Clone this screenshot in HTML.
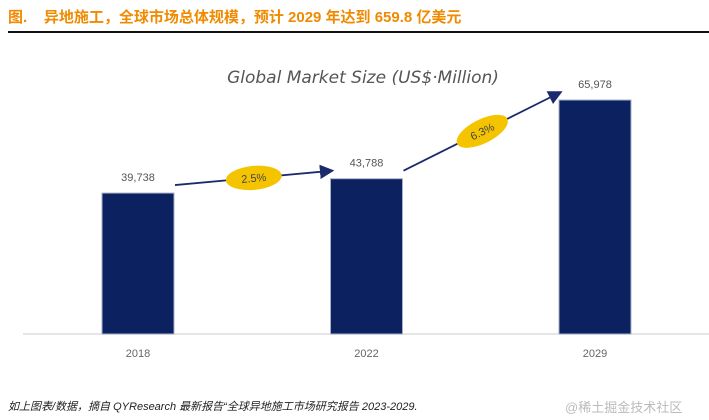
<!DOCTYPE html>
<html><head><meta charset="utf-8"><style>
body{margin:0;width:709px;height:420px;background:#fff;font-family:"Liberation Sans","Noto Sans CJK SC",sans-serif;overflow:hidden;position:relative}
#title{position:absolute;left:8px;top:6px;font-size:15px;font-weight:bold;color:#f08a00;white-space:nowrap}
#rule{position:absolute;left:8px;top:31px;width:701px;height:2px;background:#111}
#foot{position:absolute;left:8px;top:398px;font-size:11px;font-style:italic;color:#222;white-space:nowrap}
#wm{position:absolute;left:565px;top:397px;font-size:13px;color:#bbb;white-space:nowrap}
</style></head><body>
<div id="title">图.&nbsp;&nbsp;&nbsp;&nbsp;异地施工，全球市场总体规模，预计 2029 年达到 659.8 亿美元</div>
<div id="rule"></div>
<svg id="chart" width="709" height="420" style="position:absolute;left:0;top:0">
<defs><marker id="ah" markerWidth="8" markerHeight="8" refX="7" refY="4" orient="auto"><path d="M0,0 L8,4 L0,8 z" fill="#1a2a6c"/></marker></defs>
<text x="363" y="83" text-anchor="middle" font-size="17" fill="#555" font-family="'DejaVu Sans',sans-serif" font-style="italic">Global Market Size (US$·Million)</text>
<line x1="23" y1="334" x2="709" y2="334" stroke="#ddd" stroke-width="1.5"/>
<g id="bars"></g>
</svg>
<div id="foot">如上图表/数据，摘自 QYResearch 最新报告“全球异地施工市场研究报告 2023-2029.</div>
<div id="wm">@稀土掘金技术社区</div>
<script>
const categories=["2018","2022","2029"];
const values=[39738,43788,65978];
const valueLabels=["39,738","43,788","65,978"];
const growthLabels=["2.5%","6.3%"];
const ns="http://www.w3.org/2000/svg";
const g=document.getElementById('bars');
const base=334, scale=234/65978;
const xCenter=i=>138+i*228.5;
const yVal=v=>base-v*scale;
function mk(t,a){const e=document.createElementNS(ns,t);for(const k in a)e.setAttribute(k,a[k]);g.appendChild(e);return e;}
categories.forEach((c,i)=>{
 const r=mk('rect',{x:xCenter(i)-36,y:yVal(values[i]),width:72,height:base-yVal(values[i]),fill:'#0c2260',stroke:'#a8b0c8','stroke-width':1});
 
 
 const t=mk('text',{x:xCenter(i),y:yVal(values[i])-12,'text-anchor':'middle','font-size':11,fill:'#555'});t.textContent=valueLabels[i];
 
 
 const x=mk('text',{x:xCenter(i),y:357,'text-anchor':'middle','font-size':11,fill:'#666'});x.textContent=c;
 
 
});
for(let i=0;i<2;i++){
 const x1=xCenter(i)+37,y1=yVal(values[i])-8,x2=xCenter(i+1)-34,y2=yVal(values[i+1])-8;
 const l=mk('line',{x1:x1,y1:y1,x2:x2,y2:y2,stroke:'#1a2a6c','stroke-width':1.8,'marker-end':'url(#ah)'});
 
 
 const mx=(x1+x2)/2,my=(y1+y2)/2,ang=Math.atan2(y2-y1,x2-x1)*180/Math.PI;
 const e=mk('ellipse',{cx:mx,cy:my,rx:28,ry:12,fill:'#f5c400',transform:`rotate(${ang} ${mx} ${my})`});
 
 
 const t=mk('text',{x:mx,y:my+4,'text-anchor':'middle','font-size':11,fill:'#444',transform:`rotate(${ang} ${mx} ${my})`});t.textContent=growthLabels[i];
 
 
}
</script>
</body></html>
